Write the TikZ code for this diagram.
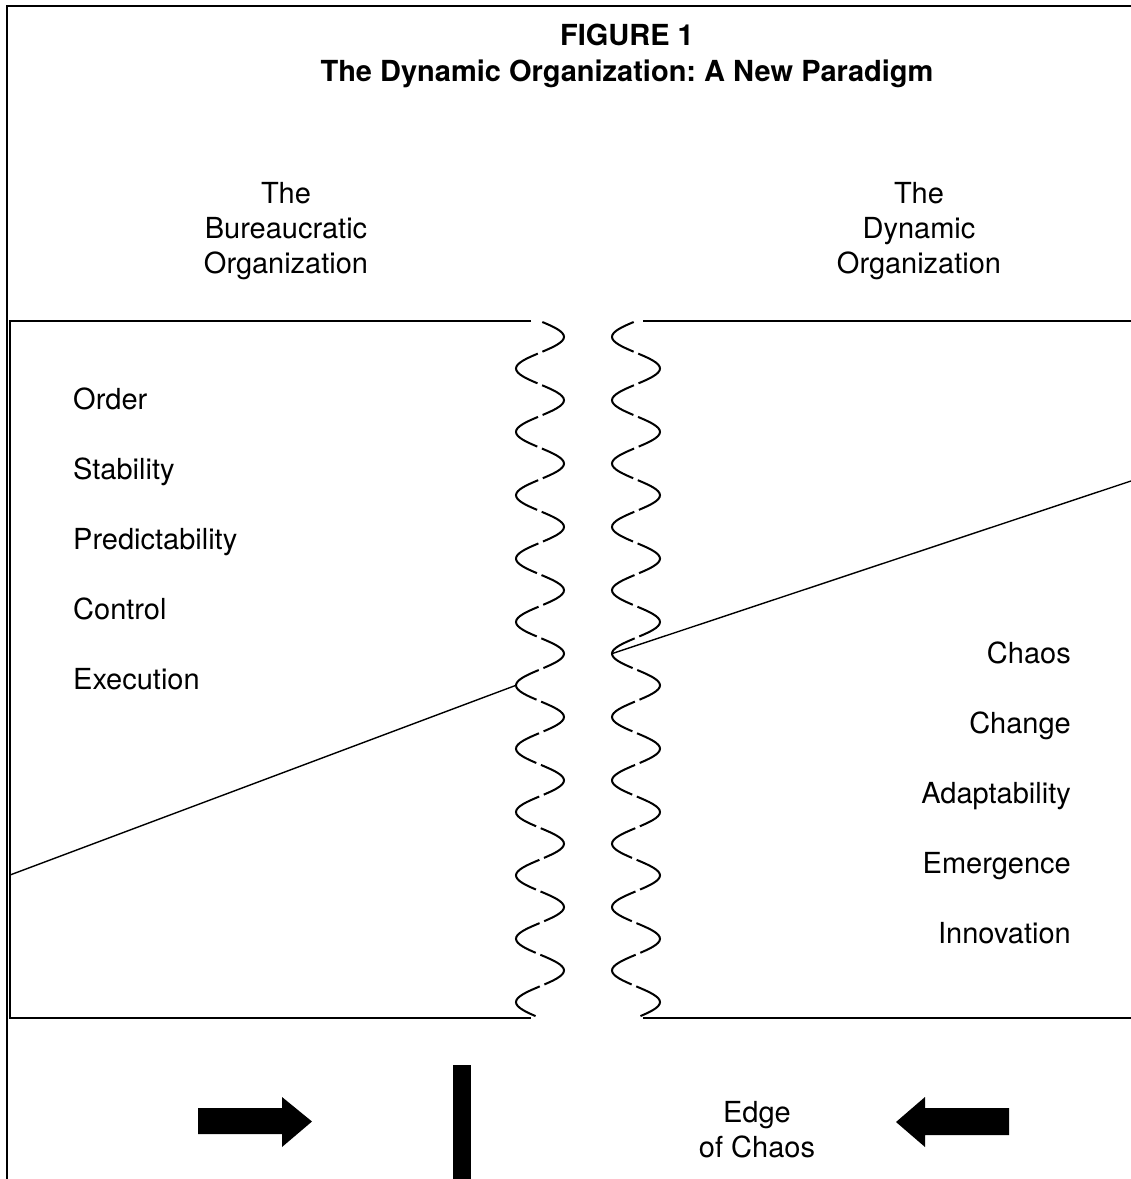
\documentclass[tikz,border=0pt]{standalone}
\usepackage{fontspec}
\setmainfont{TeX Gyre Heros}
\usetikzlibrary{positioning}
\frenchspacing

\tikzset{
  boxline/.style={line width=1.6pt},
  slope/.style={line width=1.4pt},
  wavy/.style={line width=2pt, dash pattern=on 54.36pt off 5pt, dash phase=56.86pt},
  txt/.style={font=\fontsize{29}{35}\selectfont, inner sep=0pt},
  heading/.style={txt, align=center},
}

\begin{document}
\begin{tikzpicture}[x=1pt,y=-1pt]
        \useasboundingbox (0,0) rectangle (1131,1179);
        \draw[boxline] (7,1179) -- (7,6) -- (1131,6);
        \draw[boxline] (531,321) -- (10,321) -- (10,1018) -- (531,1018);
        \draw[boxline] (643,321) -- (1131,321);
        \draw[boxline] (643,1018) -- (1131,1018);
        \draw[wavy] plot[domain=0:697, samples=353, smooth] ({540+24*sin(\x/63.36*360)}, {321+\x});
        \draw[wavy] plot[domain=0:697, samples=353, smooth] ({636-24*sin(\x/63.36*360)}, {321+\x});
        \coordinate (leftwave) at (516,685.3);
        \coordinate (rightwave) at (612,653.6);
        \draw[slope] (10,875) -- (leftwave);
        \draw[slope] (rightwave) -- (1131,481);
        \node[heading, font=\fontsize{29}{36}\selectfont\bfseries] (title) at (627,56) {FIGURE 1\\The Dynamic Organization: A New Paradigm};
        \node[heading] (bureau) at (286,231) {The\\Bureaucratic\\Organization};
        \node[heading] (dynamic) at (919,231) {The\\Dynamic\\Organization};
        \foreach \t [count=\i] in {Order,Stability,Predictability,Control,Execution}
                \node[txt, anchor=base west] (old\i) at (73,339+70*\i) {\t};
        \foreach \t [count=\i] in {Chaos,Change,Adaptability,Emergence,Innovation}
                \node[txt, anchor=base east] (new\i) at (1071,593+70*\i) {\t};
        \node[heading] (edge) at (757,1130) {Edge\\of Chaos};
        \fill (198,1108) -- (282,1108) -- (282,1097) -- (312,1121.5) -- (282,1147) -- (282,1134) -- (198,1134) -- cycle;
        \fill (453,1065) rectangle (471,1179);
        \fill (1009,1108) -- (925,1108) -- (925,1097) -- (896,1122) -- (925,1147) -- (925,1135) -- (1009,1135) -- cycle;
        \end{tikzpicture}
\end{document}
